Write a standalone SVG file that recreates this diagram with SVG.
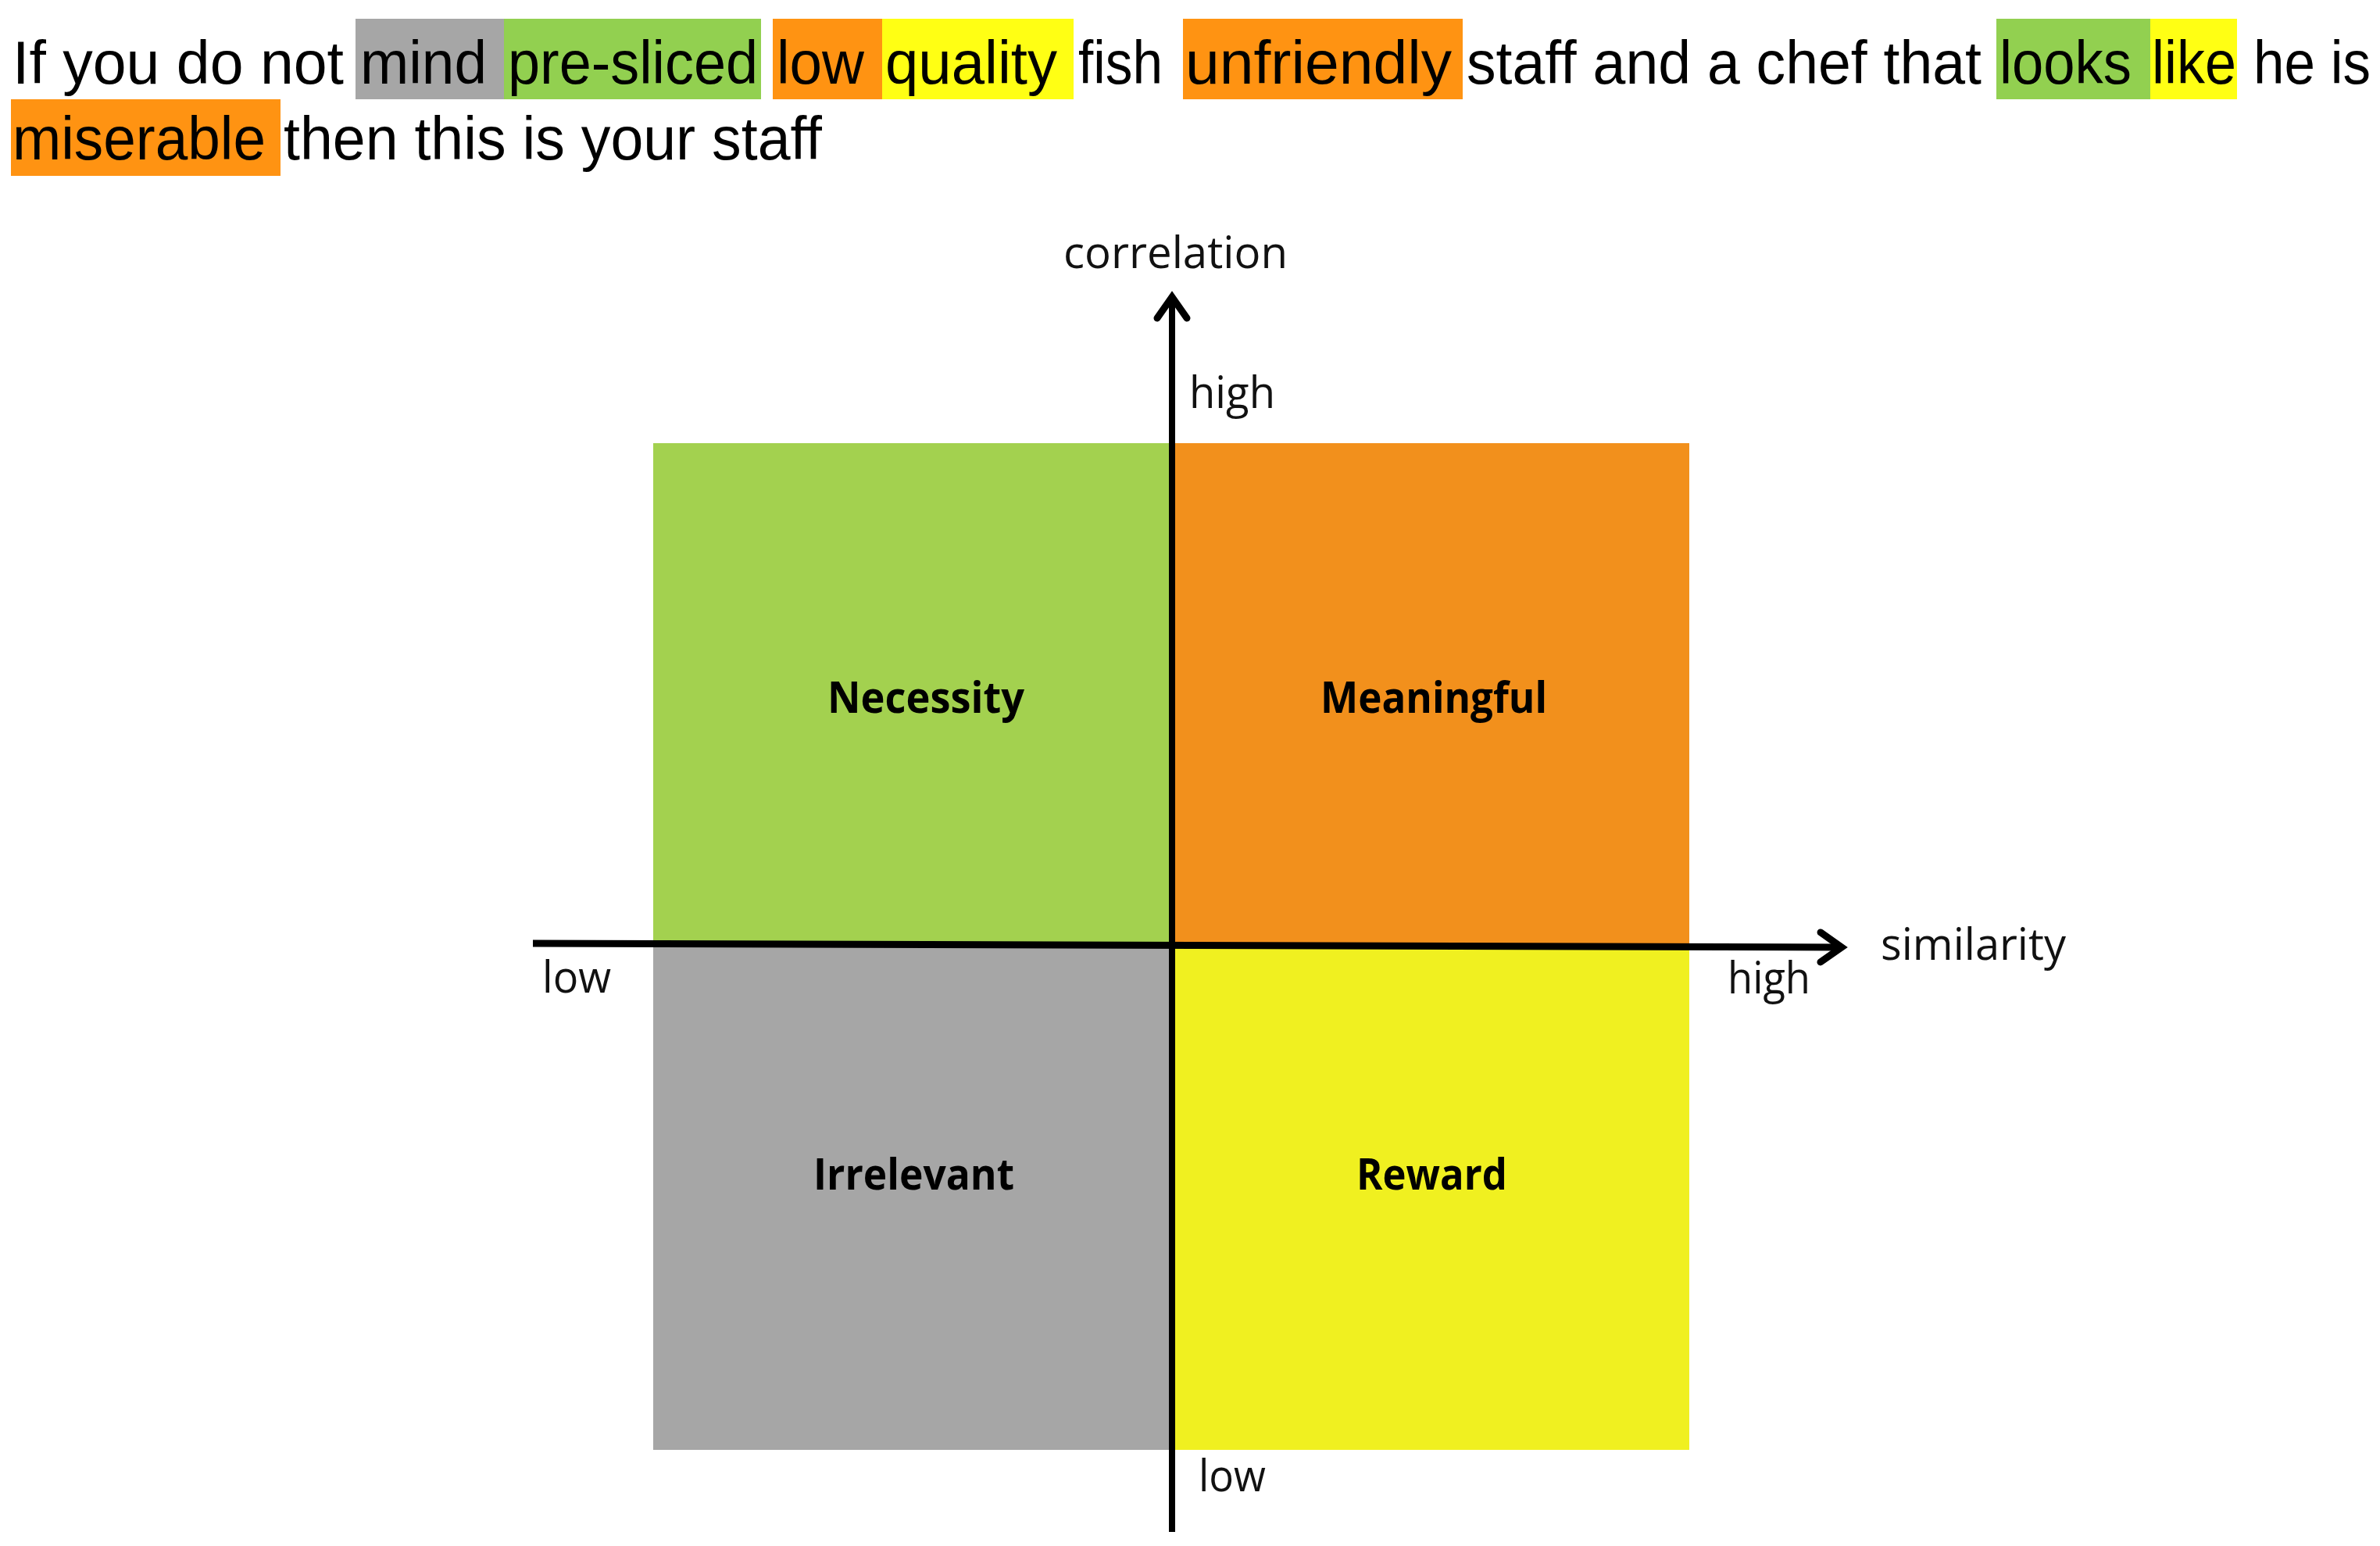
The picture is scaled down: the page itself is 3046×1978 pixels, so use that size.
<svg xmlns="http://www.w3.org/2000/svg" width="3046" height="1978" viewBox="0 0 3046 1978">
<style>
.body{font-family:"Liberation Sans",Arial,sans-serif;font-size:77px;fill:#000}
.ax{font-family:"Open Sans","Liberation Sans",sans-serif;font-size:56px;fill:#111}
.q{font-family:"Open Sans","Liberation Sans",sans-serif;font-size:56px;font-weight:bold;fill:#000}
.axis{stroke:#000;fill:none}
</style>
<defs>
<marker id="chev" markerUnits="userSpaceOnUse" viewBox="-45 -30 60 60" markerWidth="60" markerHeight="60" refX="0" refY="0" orient="auto" overflow="visible">
<path d="M -27 -19 L 0 0 L -27 19" fill="none" stroke="#000" stroke-width="9" stroke-linejoin="miter" stroke-linecap="round"/>
</marker>
</defs>
<rect width="3046" height="1978" fill="#fff"/>
<g id="sentence">
<rect x="455" y="24" width="190" height="103" fill="#A6A6A6"/>
<rect x="645" y="24" width="329" height="103" fill="#92D050"/>
<rect x="989" y="24" width="140" height="103" fill="#FF9312"/>
<rect x="1129" y="24" width="245" height="103" fill="#FFFF14"/>
<rect x="1514" y="24" width="358" height="103" fill="#FF9312"/>
<rect x="2555" y="24" width="197" height="103" fill="#92D050"/>
<rect x="2752" y="24" width="111" height="103" fill="#FFFF14"/>
<rect x="14" y="127" width="345" height="98" fill="#FF9312"/>
<text class="body" x="16" y="107" textLength="424" lengthAdjust="spacingAndGlyphs">If you do not</text>
<text class="body" x="461" y="107" textLength="162" lengthAdjust="spacingAndGlyphs">mind</text>
<text class="body" x="650" y="107" textLength="320" lengthAdjust="spacingAndGlyphs">pre-sliced</text>
<text class="body" x="994" y="107" textLength="112" lengthAdjust="spacingAndGlyphs">low</text>
<text class="body" x="1133" y="107" textLength="220" lengthAdjust="spacingAndGlyphs">quality</text>
<text class="body" x="1380" y="107" textLength="108" lengthAdjust="spacingAndGlyphs">fish</text>
<text class="body" x="1517" y="107" textLength="341" lengthAdjust="spacingAndGlyphs">unfriendly</text>
<text class="body" x="1877" y="107" textLength="659" lengthAdjust="spacingAndGlyphs">staff and a chef that</text>
<text class="body" x="2559" y="107" textLength="169" lengthAdjust="spacingAndGlyphs">looks</text>
<text class="body" x="2754" y="107" textLength="108" lengthAdjust="spacingAndGlyphs">like</text>
<text class="body" x="2884" y="107" textLength="150" lengthAdjust="spacingAndGlyphs">he is</text>
<text class="body" x="16" y="204" textLength="324" lengthAdjust="spacingAndGlyphs">miserable</text>
<text class="body" x="363" y="204" textLength="689" lengthAdjust="spacingAndGlyphs">then this is your staff</text>
</g>
<g id="necessity">
<rect x="836" y="567" width="664" height="641" fill="#A3D14F"/>
<text class="q" x="1059" y="912" textLength="252" lengthAdjust="spacingAndGlyphs">Necessity</text>
</g>
<g id="meaningful">
<rect x="1500" y="567" width="662" height="641" fill="#F2901C"/>
<text class="q" x="1690" y="912" textLength="290" lengthAdjust="spacingAndGlyphs">Meaningful</text>
</g>
<g id="irrelevant">
<rect x="836" y="1208" width="664" height="647" fill="#A6A6A6"/>
<text class="q" x="1041" y="1522" textLength="257" lengthAdjust="spacingAndGlyphs">Irrelevant</text>
</g>
<g id="reward">
<rect x="1500" y="1208" width="662" height="647" fill="#F0F020"/>
<text class="q" x="1736" y="1522" textLength="193" lengthAdjust="spacingAndGlyphs">Reward</text>
</g>
<g id="connectors">
<line class="axis" x1="682" y1="1207" x2="2357" y2="1212" stroke-width="9" marker-end="url(#chev)"/>
<line class="axis" x1="1500" y1="1960" x2="1500" y2="380" stroke-width="8" marker-end="url(#chev)"/>
</g>
<g id="axis-labels">
<text class="ax" x="1361" y="343" textLength="287" lengthAdjust="spacingAndGlyphs">correlation</text>
<text class="ax" x="1522" y="522" textLength="110" lengthAdjust="spacingAndGlyphs">high</text>
<text class="ax" x="1534" y="1908" textLength="86" lengthAdjust="spacingAndGlyphs">low</text>
<text class="ax" x="694" y="1270" textLength="88" lengthAdjust="spacingAndGlyphs">low</text>
<text class="ax" x="2211" y="1271" textLength="106" lengthAdjust="spacingAndGlyphs">high</text>
<text class="ax" x="2407" y="1228" textLength="237" lengthAdjust="spacingAndGlyphs">similarity</text>
</g>
</svg>
